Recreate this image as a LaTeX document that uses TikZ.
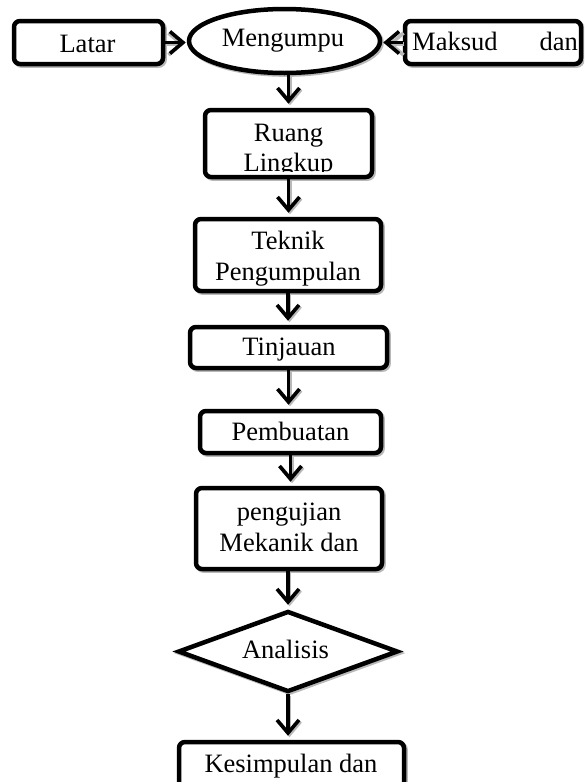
\documentclass[tikz,border=0pt]{standalone}
\usepackage{fontspec}
\setmainfont{Liberation Serif}
\usetikzlibrary{arrows.meta,shapes.geometric}
\tikzset{
  x=1pt, y=-1pt,
  every node/.style={font=\fontsize{26.5}{30}\selectfont},
  boxshadow/.style={preaction={draw=gray!55, line width=4.5pt, transform canvas={shift={(1.6pt,-1.6pt)}}}},
  flowbox/.style={draw, line width=4.5pt, rounded corners=6pt, fill=white, inner sep=0pt, boxshadow},
  txt/.style={anchor=base, inner sep=0pt},
  arrtip/.style={-{Straight Barb[length=13pt,width=22pt,line width=3.6pt]}},
  arr/.style={line width=3.6pt, arrtip, shorten >=4pt,
    preaction={draw=gray!55, line width=3.6pt, arrtip, shorten >=4pt, transform canvas={shift={(1.5pt,-1.5pt)}}}}
}
\begin{document}
\begin{tikzpicture}
\useasboundingbox (0,0) rectangle (584,782);
\clip (0,0) rectangle (584,782);

% shapes
\node[flowbox, minimum width=149pt, minimum height=43pt] (latar) at (88.5,42.5) {};
\node[flowbox, ellipse, minimum width=191pt, minimum height=64pt, rounded corners=0pt] (ell) at (284.5,41) {};
\node[flowbox, minimum width=176pt, minimum height=43pt] (maksud) at (493,42.5) {};
\node[flowbox, minimum width=167pt, minimum height=67pt] (ruang) at (288.5,143.5) {};
\node[flowbox, minimum width=186pt, minimum height=72pt] (teknik) at (288,255) {};
\node[flowbox, minimum width=197pt, minimum height=41pt] (tinjauan) at (288.5,347.5) {};
\node[flowbox, minimum width=181pt, minimum height=42pt] (pembuatan) at (290.5,432) {};
\node[flowbox, minimum width=186pt, minimum height=81pt] (pengujian) at (289,528.5) {};
\node[flowbox, diamond, minimum width=220pt, minimum height=81pt, rounded corners=0pt] (analisis) at (288,651.5) {};
\node[flowbox, minimum width=225pt, minimum height=68pt] (kesimpulan) at (291.5,776) {};

% texts
\node[txt] (tlatar) at (87.5,52) {Latar};
\node[txt] (tell) at (283,46) {Mengumpu};
\node[txt, anchor=base west] (tmaksud) at (412,50) {Maksud};
\node[txt, anchor=base east] (tdan) at (578,50) {dan};
\begin{scope}
  \clip (150,100) rectangle (420,171);
  \node[txt] (truang1) at (288.5,141) {Ruang};
  \node[txt] (truang2) at (288.5,171.5) {Lingkup};
\end{scope}
\node[txt] (tteknik1) at (288,249) {Teknik};
\node[txt] (tteknik2) at (288,280) {Pengumpulan};
\node[txt] (ttinjauan) at (289,355) {Tinjauan};
\node[txt] (tpembuatan) at (290.5,440) {Pembuatan};
\node[txt] (tpeng1) at (289,520) {pengujian};
\node[txt] (tpeng2) at (289,551) {Mekanik dan};
\node[txt] (tanalisis) at (285.5,658) {Analisis};
\node[txt] (tkesimpulan) at (291,772) {Kesimpulan dan};

% connectors
\draw[arr, shorten >=1pt] (latar.east) -- (latar.east -| ell.west);
\draw[arr, shorten >=1pt] (maksud.west) -- (maksud.west -| ell.east);
\draw[arr] (ruang.north |- ell.south) -- (ruang.north);
\draw[arr] (ruang.south) -- (ruang.south |- teknik.north);
\draw[arr] (teknik.south) -- (teknik.south |- tinjauan.north);
\draw[arr] (tinjauan.south) -- (tinjauan.south |- pembuatan.north);
\draw[arr] (pembuatan.south) -- (pembuatan.south |- pengujian.north);
\draw[arr] (pengujian.south -| analisis.north) -- (analisis.north);
\draw[arr] (analisis.south) -- (analisis.south |- kesimpulan.north);
\end{tikzpicture}
\end{document}
